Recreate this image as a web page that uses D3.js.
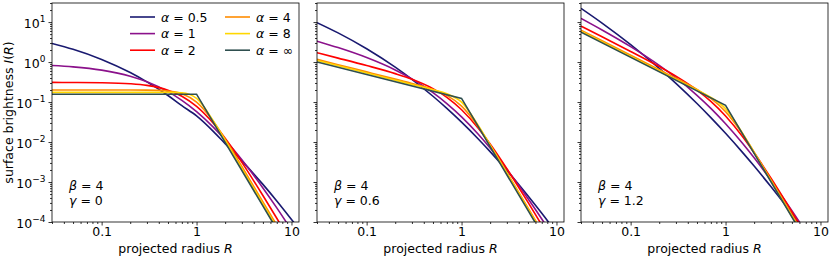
<!DOCTYPE html>
<html>
<head>
<meta charset="utf-8">
<script src="https://cdn.jsdelivr.net/npm/d3@7"></script>
<style>
  body { margin: 0; background: #fff; }
  svg text { font-family: "DejaVu Sans", sans-serif; fill: #000; }
</style>
</head>
<body>
<div id="chart"></div>
<script>
// Sampled radii shared by the smooth curves, and the break points of the alpha = infinity curve
const radii = [0.03, 0.05, 0.1, 0.2, 0.3, 0.5, 0.7, 1, 1.5, 2, 3, 5, 7, 10, 12];
const radiiBroken = [0.03, 1, 12];

const alphaLabels = ["0.5", "1", "2", "4", "8", "\u221e"];
const gammaLabels = ["0", "0.6", "1.2"];
const betaLabel = "4";

// gamma = 0, one row per alpha (last row uses radiiBroken)
const profilesGamma0 = [
  [2.93, 2.09, 1.166, 0.546, 0.319, 0.1457, 0.0811, 0.045, 0.0185, 0.00911, 0.00338, 0.000872, 0.000336, 0.000116, 0.0000666],
  [0.817, 0.757, 0.628, 0.444, 0.322, 0.1817, 0.1101, 0.0575, 0.02355, 0.01136, 0.00359, 0.00071, 0.000225, 0.0000628, 0.0000322],
  [0.3099, 0.3085, 0.3039, 0.2866, 0.2609, 0.1984, 0.1396, 0.0775, 0.02935, 0.0124, 0.0031, 0.000459, 0.000124, 0.0000304, 0.0000147],
  [0.2, 0.2, 0.2, 0.1997, 0.1984, 0.1882, 0.1613, 0.1, 0.033, 0.01176, 0.00244, 0.000319, 0.0000833, 0.00002, 0.00000964],
  [0.175, 0.175, 0.175, 0.175, 0.175, 0.1747, 0.1702, 0.1237, 0.0339, 0.01092, 0.00216, 0.00028, 0.0000729, 0.0000175, 0.00000844],
  [0.157, 0.157, 0.0000076]
];

// gamma = 0.6
const profilesGamma06 = [
  [9.69, 5.36, 2.15, 0.745, 0.37, 0.1397, 0.0694, 0.03142, 0.01195, 0.00576, 0.00195, 0.000453, 0.000165, 0.0000541, 0.0000301],
  [3.34, 2.3, 1.296, 0.636, 0.38, 0.1719, 0.0917, 0.0426, 0.01565, 0.00708, 0.00209, 0.000387, 0.000119, 0.0000326, 0.0000165],
  [1.712, 1.256, 0.818, 0.514, 0.372, 0.2168, 0.1314, 0.0643, 0.0221, 0.00894, 0.002157, 0.000313, 0.0000841, 0.0000205, 0.00000997],
  [1.17, 0.86, 0.568, 0.374, 0.2916, 0.2053, 0.1471, 0.0791, 0.02416, 0.00847, 0.001743, 0.000228, 0.0000594, 0.0000143, 0.00000688],
  [1.099, 0.809, 0.533, 0.352, 0.276, 0.2028, 0.1621, 0.0998, 0.02605, 0.00836, 0.001655, 0.000214, 0.0000558, 0.0000134, 0.00000647],
  [1.009, 0.123, 0.00000593]
];

// gamma = 1.2
const profilesGamma12 = [
  [22.0, 9.41, 2.72, 0.696, 0.294, 0.092, 0.0408, 0.0165, 0.00559, 0.0025, 0.00077, 0.000162, 0.0000553, 0.0000172, 0.0000093],
  [12.39, 6.35, 2.43, 0.828, 0.407, 0.1476, 0.0695, 0.0287, 0.00945, 0.00402, 0.0011, 0.000192, 0.0000573, 0.0000153, 0.0000077],
  [7.93, 4.28, 1.844, 0.771, 0.4436, 0.1984, 0.1036, 0.0447, 0.01392, 0.0054, 0.001258, 0.000179, 0.0000477, 0.0000116, 0.00000564],
  [6.3, 3.41, 1.484, 0.645, 0.3947, 0.2061, 0.1235, 0.0576, 0.0163, 0.00561, 0.001146, 0.00015, 0.0000389, 0.00000937, 0.00000451],
  [5.85, 3.17, 1.379, 0.6, 0.369, 0.1996, 0.1309, 0.0683, 0.01696, 0.00543, 0.001074, 0.000139, 0.0000362, 0.0000087, 0.00000419],
  [5.585, 0.083, 0.000004]
];

const panels = [profilesGamma0, profilesGamma06, profilesGamma12];

const xMajor = [0.1, 1, 10];
const yMajor = [1e-4, 1e-3, 1e-2, 1e-1, 1, 10];

// styles
const colors = ["#191970", "#8b118b", "#ff0000", "#ff8c00", "#ffd700", "#2f4f4f"];
const W = 830, H = 261;
const panelLeft = [52, 317, 581];
const panelW = 247;
const plotTop = 3, plotBottom = 222;
const plotH = plotBottom - plotTop;
const fs = "12.5px";

const svg = d3.select("#chart").append("svg")
  .attr("width", W)
  .attr("height", H);

const x = d3.scaleLog().domain([0.03, 12]).range([0, panelW]);
const y = d3.scaleLog().domain([1e-4, 30]).range([plotH, 0]);

// minor ticks for log axes
function minorTicks(domain) {
  const out = [];
  for (let e = -6; e <= 3; e++) {
    for (let m = 2; m <= 9; m++) {
      const v = m * Math.pow(10, e);
      if (v >= domain[0] * 0.9999 && v <= domain[1] * 1.0001) out.push(v);
    }
  }
  return out;
}

const line = d3.line()
  .x(d => x(d[0]))
  .y(d => y(d[1]));

panels.forEach((rows, p) => {
  const g = svg.append("g")
    .attr("transform", `translate(${panelLeft[p]},${plotTop})`);

  g.append("clipPath")
    .attr("id", "clip" + p)
    .append("rect")
    .attr("width", panelW)
    .attr("height", plotH);

  // x axis: minor then major
  g.append("g")
    .attr("transform", `translate(0,${plotH})`)
    .call(d3.axisBottom(x).tickValues(minorTicks(x.domain())).tickSize(2).tickFormat(""))
    .call(a => a.select(".domain").remove());
  g.append("g")
    .attr("class", "xmajor")
    .attr("transform", `translate(0,${plotH})`)
    .call(d3.axisBottom(x).tickValues(xMajor).tickSize(3.5).tickPadding(2).tickFormat(d => d < 1 ? "0.1" : String(d)))
    .call(a => a.select(".domain").remove());

  // y axis
  g.append("g")
    .call(d3.axisLeft(y).tickValues(minorTicks(y.domain())).tickSize(2).tickFormat(""))
    .call(a => a.select(".domain").remove());
  const ya = g.append("g")
    .call(d3.axisLeft(y).tickValues(yMajor).tickSize(3.5).tickPadding(3).tickFormat(""))
    .call(a => a.select(".domain").remove());

  if (p === 0) {
    ya.selectAll(".tick").each(function(d) {
      const t = d3.select(this).select("text")
        .attr("dy", null)
        .attr("y", 5)
        .style("font-size", fs);
      const ex = Math.round(Math.log10(d));
      t.append("tspan").text("10");
      t.append("tspan")
        .attr("dy", -6)
        .style("font-size", "9px")
        .text(String(ex).replace("-", "\u2212"));
    });
  }

  g.selectAll(".tick line").attr("stroke", "#000").attr("stroke-width", 0.8);
  g.selectAll(".xmajor text").style("font-size", fs).attr("fill", "#000");

  // curves
  const curvesG = g.append("g").attr("clip-path", `url(#clip${p})`);
  rows.forEach((vals, i) => {
    const rr = vals.length === radii.length ? radii : radiiBroken;
    const pts = rr.map((r, k) => [r, vals[k]]);
    curvesG.append("path")
      .datum(pts)
      .attr("fill", "none")
      .attr("stroke", colors[i])
      .attr("stroke-width", 1.6)
      .attr("d", line.curve(vals.length === radii.length ? d3.curveMonotoneX : d3.curveLinear));
  });

  // frame
  g.append("rect")
    .attr("width", panelW)
    .attr("height", plotH)
    .attr("fill", "none")
    .attr("stroke", "#000")
    .attr("stroke-width", 0.8);

  // parameter annotation
  const ann = g.append("g").attr("transform", "translate(17,0)");
  const b = ann.append("text").attr("y", 187).style("font-size", fs);
  b.append("tspan").style("font-style", "italic").text("\u03b2");
  b.append("tspan").text(" = " + betaLabel);
  const gm = ann.append("text").attr("y", 202).style("font-size", fs);
  gm.append("tspan").style("font-style", "italic").text("\u03b3");
  gm.append("tspan").text(" = " + gammaLabels[p]);

  // x label
  const xl = g.append("text")
    .attr("x", panelW / 2)
    .attr("y", plotH + 31)
    .attr("text-anchor", "middle")
    .style("font-size", fs);
  xl.append("tspan").text("projected radius ");
  xl.append("tspan").style("font-style", "italic").text("R");

  // legend in the first panel
  if (p === 0) {
    const leg = g.append("g");
    alphaLabels.forEach((lab, i) => {
      const col = Math.floor(i / 3), row = i % 3;
      const lx = col === 0 ? 78 : 173;
      const ly = 14 + row * 16.6;
      leg.append("line")
        .attr("x1", lx).attr("x2", lx + 25)
        .attr("y1", ly).attr("y2", ly)
        .attr("stroke", colors[i])
        .attr("stroke-width", 1.6);
      const t = leg.append("text")
        .attr("x", lx + 31)
        .attr("y", ly + 4.5)
        .style("font-size", fs);
      t.append("tspan").style("font-style", "italic").text("\u03b1");
      t.append("tspan").text(" = " + lab);
    });
  }
});

// y label
const yl = svg.append("text")
  .attr("transform", `translate(13,${plotTop + plotH / 2}) rotate(-90)`)
  .attr("text-anchor", "middle")
  .style("font-size", fs);
yl.append("tspan").text("surface brightness ");
yl.append("tspan").style("font-style", "italic").text("I");
yl.append("tspan").text("(");
yl.append("tspan").style("font-style", "italic").text("R");
yl.append("tspan").text(")");
</script>
</body>
</html>
